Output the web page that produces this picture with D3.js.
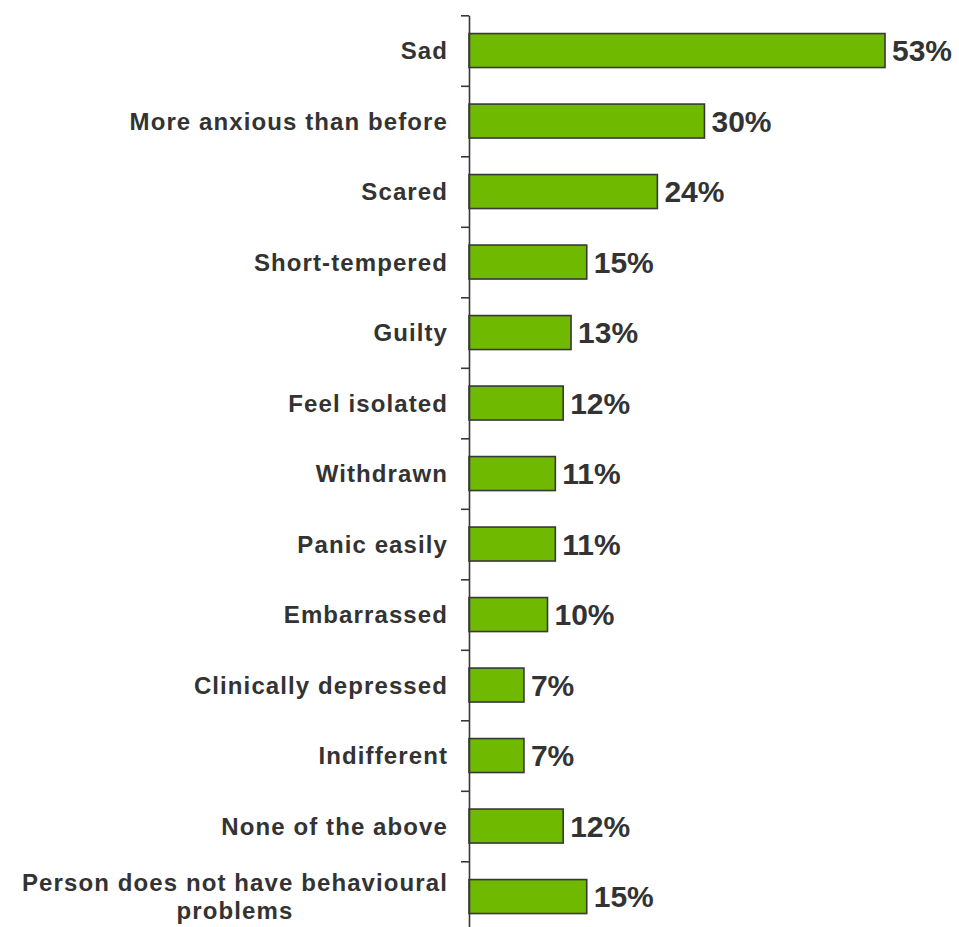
<!DOCTYPE html>
<html>
<head>
<meta charset="utf-8">
<script src="https://cdn.jsdelivr.net/npm/d3@7/dist/d3.min.js"></script>
<style>
  html, body { margin: 0; padding: 0; background: #fff; }
  svg { display: block; }
</style>
</head>
<body>
<script>
const categories = [
  "Sad",
  "More anxious than before",
  "Scared",
  "Short-tempered",
  "Guilty",
  "Feel isolated",
  "Withdrawn",
  "Panic easily",
  "Embarrassed",
  "Clinically depressed",
  "Indifferent",
  "None of the above",
  "Person does not have behavioural problems"
];
const values = [53, 30, 24, 15, 13, 12, 11, 11, 10, 7, 7, 12, 15];
const valueLabels = ["53%", "30%", "24%", "15%", "13%", "12%", "11%", "11%", "10%", "7%", "7%", "12%", "15%"];
const labelLines = {
  "Person does not have behavioural problems": ["Person does not have behavioural", "problems"]
};

const W = 959, H = 927;
const axisX = 469;
const yTop = 15.3, yBottom = 931.8;

const svg = d3.select("body").append("svg")
  .attr("width", W).attr("height", H);

const x = d3.scaleLinear().domain([0, 53]).range([axisX, 885]);
const y = d3.scaleBand().domain(categories).range([yTop, yBottom])
  .paddingInner(0.518).paddingOuter(0.259);
const yTick = d3.scaleLinear().domain([0, categories.length]).range([yTop, yBottom]);

const textColor = "#333333";
const fontFam = "'Liberation Sans', Arial, Helvetica, sans-serif";
const labelSize = 24, labelSpacing = 1.1;

// bars
svg.append("g").selectAll("rect")
  .data(categories)
  .join("rect")
  .attr("x", x(0))
  .attr("y", d => y(d))
  .attr("width", (d, i) => x(values[i]) - x(0))
  .attr("height", y.bandwidth())
  .attr("fill", "#6fb900")
  .attr("stroke", "#383838")
  .attr("stroke-width", 1.6);

// axis
const axis = d3.axisLeft(yTick)
  .tickValues(d3.range(0, categories.length + 1))
  .tickFormat("")
  .tickSize(8)
  .tickSizeOuter(0);
const ag = svg.append("g").attr("transform", `translate(${axisX},0)`).call(axis);
ag.select(".domain").attr("stroke", "#383838").attr("stroke-width", 1.6);
ag.selectAll(".tick line").attr("stroke", "#383838").attr("stroke-width", 1.6);

// category labels
const lg = svg.append("g");
categories.forEach((c, i) => {
  const lines = labelLines[c] || [c];
  const cy = y(c) + y.bandwidth() / 2;
  const lh = 28;
  if (lines.length === 1) {
    lg.append("text")
      .attr("x", 448)
      .attr("y", cy)
      .attr("dy", "0.36em")
      .attr("text-anchor", "end")
      .attr("font-family", fontFam)
      .attr("font-weight", "bold")
      .attr("font-size", labelSize)
      .attr("letter-spacing", labelSpacing)
      .attr("fill", textColor)
      .text(c);
  } else {
    const t = lg.append("text")
      .attr("font-family", fontFam)
      .attr("font-weight", "bold")
      .attr("font-size", labelSize)
      .attr("letter-spacing", labelSpacing)
      .attr("fill", textColor)
      .attr("text-anchor", "middle");
    lines.forEach((ln, k) => {
      t.append("tspan")
        .attr("y", cy + (k - (lines.length - 1) / 2) * lh)
        .attr("dy", "0.36em")
        .text(ln);
    });
    let maxW = 0;
    t.selectAll("tspan").each(function() { maxW = Math.max(maxW, this.getComputedTextLength()); });
    t.selectAll("tspan").attr("x", 448 - maxW / 2);
  }
});

// value labels
svg.append("g").selectAll("text")
  .data(categories)
  .join("text")
  .attr("x", (d, i) => x(values[i]) + 7)
  .attr("y", d => y(d) + y.bandwidth() / 2)
  .attr("dy", "0.36em")
  .attr("font-family", fontFam)
  .attr("font-weight", "bold")
  .attr("font-size", 30)
  .attr("fill", textColor)
  .text((d, i) => valueLabels[i]);
</script>
</body>
</html>
